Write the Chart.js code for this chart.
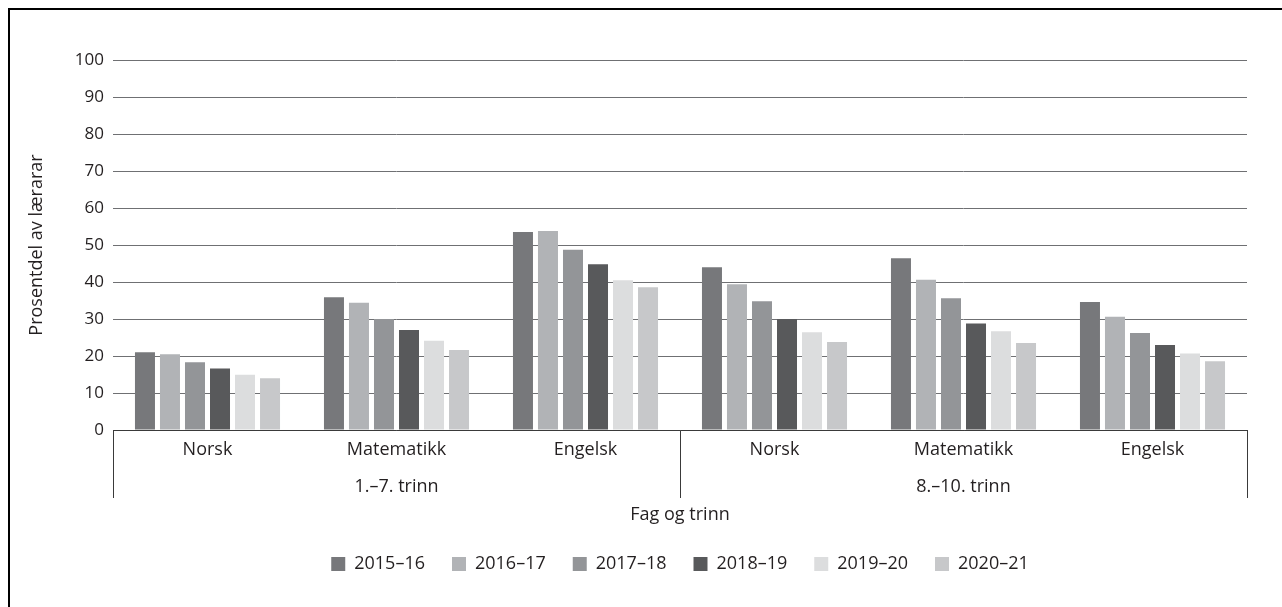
<!DOCTYPE html>
<html>
<head>
<meta charset="utf-8">
<script src="https://cdn.jsdelivr.net/npm/chart.js@4.4.1/dist/chart.umd.min.js"></script>
<style>
  html, body { margin: 0; padding: 0; background: #fff; overflow: hidden; }
  #wrap { position: absolute; left: 0; top: 0; width: 1282px; height: 607px; }
  #frame { position: absolute; left: 8px; top: 8px; width: 1290px; height: 620px; border: 2px solid #000; pointer-events: none; box-sizing: border-box; }
</style>
</head>
<body>
<div id="wrap"><canvas id="c" width="1282" height="607"></canvas></div>
<div id="frame"></div>
<script>
const subjects = ['Norsk', 'Matematikk', 'Engelsk', 'Norsk', 'Matematikk', 'Engelsk'];
const stages = ['1.–7. trinn', '8.–10. trinn'];
const years = ['2015–16', '2016–17', '2017–18', '2018–19', '2019–20', '2020–21'];
const yTicks = [0, 10, 20, 30, 40, 50, 60, 70, 80, 90, 100];

const v2015_16 = [21.0, 35.9, 53.5, 44.0, 46.4, 34.6];
const v2016_17 = [20.5, 34.4, 53.8, 39.4, 40.6, 30.6];
const v2017_18 = [18.3, 30.0, 48.7, 34.8, 35.6, 26.2];
const v2018_19 = [16.6, 27.0, 44.8, 30.0, 28.8, 23.0];
const v2019_20 = [14.9, 24.1, 40.5, 26.4, 26.7, 20.7];
const v2020_21 = [14.0, 21.6, 38.6, 23.8, 23.5, 18.6];

const colors = ['#77787b', '#b1b3b6', '#939598', '#58595b', '#dcddde', '#c7c8ca'];
const series = [v2015_16, v2016_17, v2017_18, v2018_19, v2019_20, v2020_21];

// two-line labels: subject, and the stage label under the middle subject of each group
const labels = subjects.map((s, i) => [s, (i % 3 === 1) ? stages[Math.floor(i / 3)] : '']);

const FONT = "'Open Sans', 'Noto Sans', sans-serif";
const TXT = '#231f20';

new Chart(document.getElementById('c'), {
  type: 'bar',
  data: {
    labels: labels,
    datasets: years.map((y, i) => ({
      label: y,
      data: series[i],
      backgroundColor: colors[i],
      borderWidth: 0,
      barPercentage: 0.8,
      categoryPercentage: 0.794
    }))
  },
  options: {
    responsive: false,
    animation: false,
    layout: { padding: { left: 20, right: 35, top: 60, bottom: 24 } },
    plugins: {
      legend: {
        position: 'bottom',
        fullSize: false,
        labels: {
          color: TXT,
          font: { family: FONT, size: 18 },
          boxWidth: 14,
          boxHeight: 14,
          padding: 27
        }
      },
      tooltip: { enabled: false }
    },
    scales: {
      x: {
        grid: {
          offset: true,
          drawOnChartArea: false,
          drawTicks: true,
          tickLength: 68,
          lineWidth: 1,
          color: (ctx) => (ctx.index === undefined || ctx.index % 3 === 0) ? '#3a3a3a' : 'rgba(0,0,0,0)'
        },
        border: { display: true, color: '#3a3a3a', width: 1 },
        ticks: {
          color: TXT,
          font: { family: FONT, size: 18, lineHeight: 2.056 },
          padding: -66.5,
          maxRotation: 0,
          autoSkip: false
        },
        title: {
          display: true,
          text: 'Fag og trinn',
          color: TXT,
          font: { family: FONT, size: 18, lineHeight: 1.2 },
          padding: { top: 0, bottom: 2 }
        },
        afterFit: (scale) => { scale.height = 98; }
      },
      y: {
        min: 0,
        max: 100,
        afterBuildTicks: (scale) => { scale.ticks = yTicks.map(v => ({ value: v })); },
        grid: {
          drawTicks: false,
          color: '#6f7073',
          lineWidth: 1
        },
        border: { display: false },
        ticks: {
          color: TXT,
          font: { family: FONT, size: 17 },
          padding: 9
        },
        title: {
          display: true,
          text: 'Prosentdel av lærarar',
          color: TXT,
          font: { family: FONT, size: 18, lineHeight: 1.2 },
          padding: { top: 6, bottom: 0 }
        },
        afterFit: (scale) => { scale.width = 93; }
      }
    }
  }
});
</script>
</body>
</html>
